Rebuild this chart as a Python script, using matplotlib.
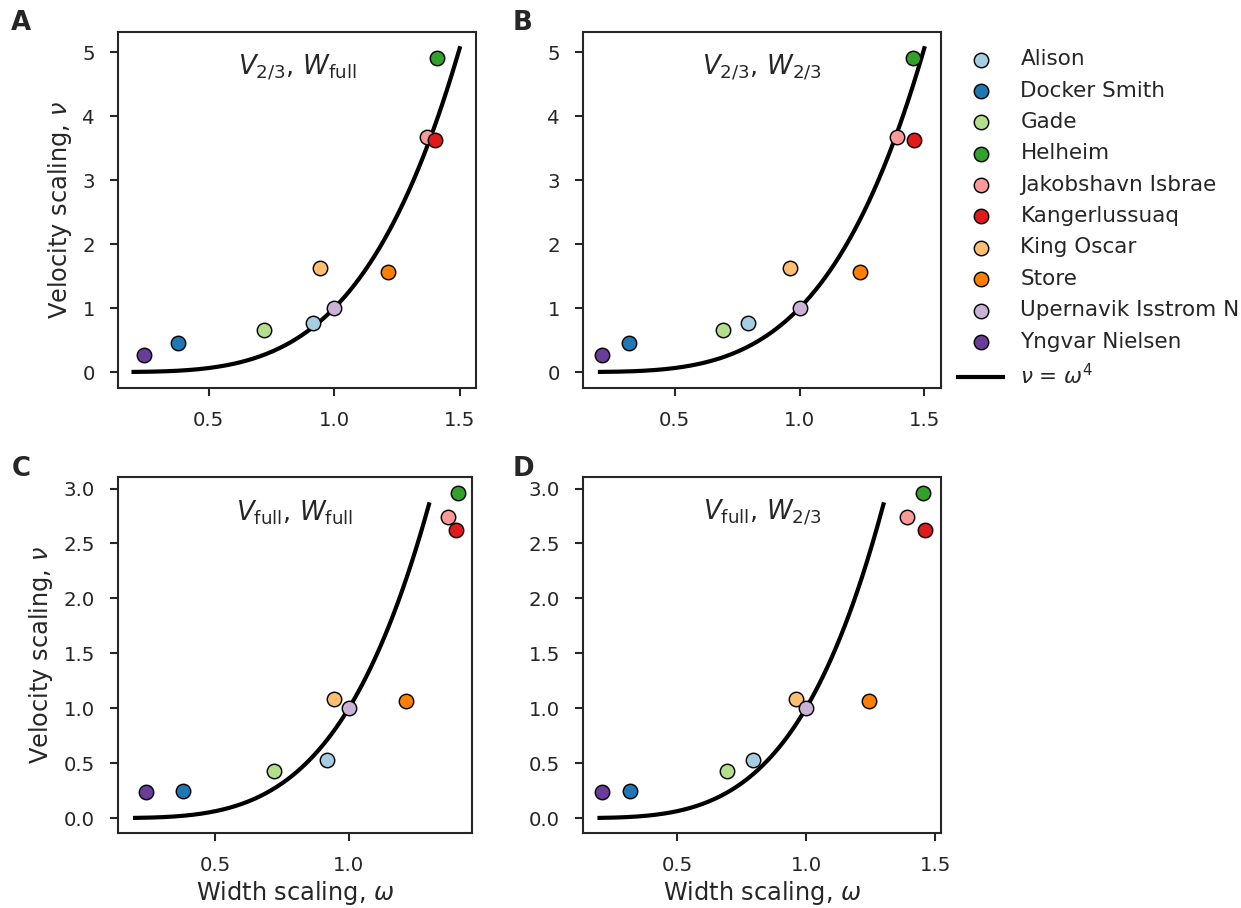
import numpy as np
import matplotlib
matplotlib.use("Agg")
import matplotlib.pyplot as plt

# Glacier names and colours (Paired palette)
glaciers = ["Alison", "Docker Smith", "Gade", "Helheim", "Jakobshavn Isbrae",
            "Kangerlussuaq", "King Oscar", "Store", "Upernavik Isstrom N",
            "Yngvar Nielsen"]
colors = ["#a6cee3", "#1f78b4", "#b2df8a", "#33a02c", "#fb9a99",
          "#e31a1c", "#fdbf6f", "#ff7f00", "#cab2d6", "#6a3d9a"]

# Width scaling (full width and 2/3 width definitions)
w_full = [0.917, 0.378, 0.719, 1.409, 1.370, 1.402, 0.943, 1.214, 1.000, 0.242]
w_23 = [0.793, 0.317, 0.695, 1.455, 1.390, 1.460, 0.962, 1.243, 1.000, 0.209]

# Velocity scaling (2/3 and full definitions)
v_23 = [0.762, 0.453, 0.660, 4.906, 3.672, 3.621, 1.628, 1.561, 1.000, 0.259]
v_full = [0.533, 0.248, 0.430, 2.955, 2.742, 2.627, 1.085, 1.066, 1.000, 0.236]

# Range of the theoretical curve nu = omega^4 per row
curve_range_top = (0.2, 1.5)
curve_range_bottom = (0.2, 1.3)

panel_letters = ["A", "B", "C", "D"]
panel_titles = [r"$V_{2/3}$, $W_\mathrm{full}$", r"$V_{2/3}$, $W_{2/3}$",
                r"$V_\mathrm{full}$, $W_\mathrm{full}$", r"$V_\mathrm{full}$, $W_{2/3}$"]

dark = "#262626"
plt.rcParams.update({
    "font.family": "DejaVu Sans",
    "text.color": dark,
    "axes.labelcolor": dark,
    "axes.edgecolor": dark,
    "xtick.color": dark,
    "ytick.color": dark,
    "axes.linewidth": 1.0,
    "xtick.major.size": 4,
    "ytick.major.size": 4,
    "xtick.major.width": 1.0,
    "ytick.major.width": 1.0,
    "xtick.major.pad": 7,
    "ytick.major.pad": 7,
    "xtick.labelsize": 9.5,
    "ytick.labelsize": 9.5,
    "axes.labelsize": 11.5,
})

fig = plt.figure(figsize=(1241 / 150, 908 / 150), dpi=150)

W, H = 1241, 908
boxes = [(118, 32, 476, 388), (583, 32, 941, 388),
         (118, 477, 472, 833), (583, 477, 941, 833)]
xlims = [(0.138, 1.565), (0.132, 1.567), (0.136, 1.461), (0.136, 1.523)]
ylims = [(-0.25, 5.316), (-0.25, 5.316), (-0.136, 3.105), (-0.136, 3.105)]

axes = []
for (l, t, r, b) in boxes:
    axes.append(fig.add_axes([l / W, 1 - b / H, (r - l) / W, (b - t) / H]))

data = [(w_full, v_23, curve_range_top), (w_23, v_23, curve_range_top),
        (w_full, v_full, curve_range_bottom), (w_23, v_full, curve_range_bottom)]

for i, (ax, (xs, ys, crange)) in enumerate(zip(axes, data)):
    for name, c, x, y in zip(glaciers, colors, xs, ys):
        ax.scatter([x], [y], s=48, color=c, edgecolor="black", linewidth=0.7,
                   zorder=3, label=name)
    om = np.linspace(crange[0], crange[1], 200)
    ax.plot(om, om ** 4, color="black", lw=2.0, zorder=2,
            label=r"$\nu$ = $\omega^4$")
    ax.text(0.5, 0.9, panel_titles[i], transform=ax.transAxes,
            ha="center", va="center", fontsize=12.5)
    ax.set_xticks([0.5, 1.0, 1.5])
    if i in (0, 1):
        ax.set_yticks([0, 1, 2, 3, 4, 5])
    else:
        ax.set_yticks([0.0, 0.5, 1.0, 1.5, 2.0, 2.5, 3.0])
        ax.set_yticklabels(["0.0", "0.5", "1.0", "1.5", "2.0", "2.5", "3.0"])
    ax.set_xlim(*xlims[i])
    ax.set_ylim(*ylims[i])
    if i in (0, 2):
        ax.set_ylabel(r"Velocity scaling, $\nu$")
    if i in (2, 3):
        ax.set_xlabel(r"Width scaling, $\omega$", labelpad=2)

# Panel letters
letter_pos = [(21, 23), (523, 23), (21, 469), (523, 469)]
for letter, (px, py) in zip(panel_letters, letter_pos):
    fig.text(px / W, 1 - py / H, letter, fontsize=12.5, fontweight="bold",
             ha="center", va="center")

handles, labels = axes[1].get_legend_handles_labels()
axes[1].legend(handles, labels, loc="upper left", bbox_to_anchor=(1.0, 1.0),
               frameon=False, fontsize=10.3, labelspacing=0.53,
               handlelength=2.1, handletextpad=0.8, borderaxespad=0.4)

fig.savefig("out.png", dpi=150)
